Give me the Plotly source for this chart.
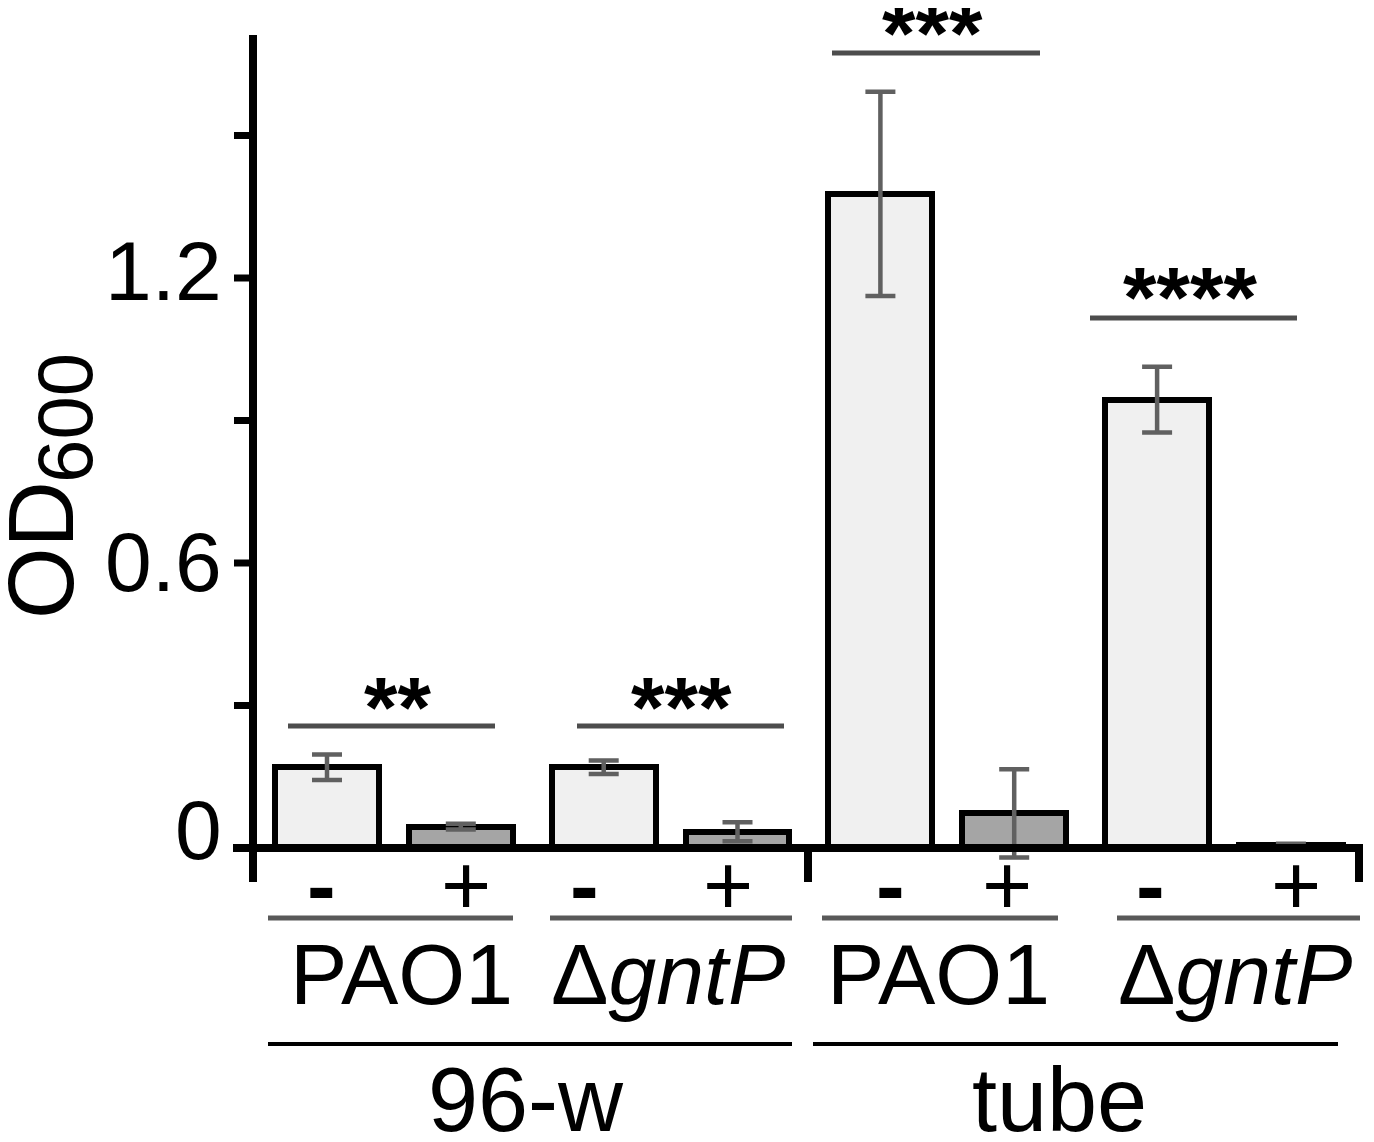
import plotly.graph_objects as go

# ---------------- data ----------------
conditions = ["96-w", "tube"]
strains = ["PAO1", "Δ<i>gntP</i>"]
treatments = ["-", "+"]
od_mean = [0.170, 0.045, 0.170, 0.034, 1.377, 0.073, 0.944, 0.006]
od_err = [0.027, 0.006, 0.014, 0.020, 0.215, 0.093, 0.069, 0.003]
sig_labels = ["**", "***", "***", "****"]
ytick_text = ["0", "0.6", "1.2"]
ytick_vals = [0.0, 0.6, 1.2]
yminor_vals = [0.3, 0.6, 0.9, 1.2, 1.5]

# ---------------- layout parameters ----------------
OFF = 8                               # page body margin
W, H = 1374 - 2 * OFF, 1142 - 2 * OFF
FONT = "Liberation Sans, Arial, sans-serif"
X0_PX, UNIT_PX = 327.0, 133.8        # screen pixel of first bar, pixels per x unit
Y0_PX, YUNIT_PX = 848.0, 475.0       # screen pixel of y=0, pixels per OD unit
PAIR_STEP = 2.068
BAR_W = 0.777
fills = {"-": "#f0f0f0", "+": "#a5a5a5"}
treat_fmt = {"-": "<b>-</b>", "+": "+"}

xrange_ = [(OFF - X0_PX) / UNIT_PX, (OFF + W - X0_PX) / UNIT_PX]
yrange_ = [(Y0_PX - (OFF + H)) / YUNIT_PX, (Y0_PX - OFF) / YUNIT_PX]


def px(xp):
    return (xp - OFF) / W


def py(yp):
    return 1 - (yp - OFF) / H


# bar positions and colours
xpos, colors = [], []
for ci, cond in enumerate(conditions):
    for si, st in enumerate(strains):
        pair = ci * 2 + si
        for ti, tr in enumerate(treatments):
            xpos.append(pair * PAIR_STEP + ti)
            colors.append(fills[tr])

fig = go.Figure()
fig.add_trace(go.Bar(
    x=xpos, y=od_mean, width=BAR_W,
    marker=dict(color=colors, line=dict(color="black", width=6)),
    error_y=dict(type="data", array=od_err, visible=True,
                 color="#606060", thickness=4.5, width=15),
    showlegend=False, hoverinfo="skip",
))

shapes = []
annotations = []

# axes
shapes.append(dict(type="line", xref="paper", yref="paper",
                   x0=px(253), x1=px(253), y0=py(35), y1=py(882),
                   line=dict(color="black", width=8)))
shapes.append(dict(type="line", xref="paper", yref="y",
                   x0=px(233), x1=px(1363), y0=0, y1=0,
                   line=dict(color="black", width=8)))
for xp_ in (808, 1359):
    shapes.append(dict(type="line", xref="paper", yref="paper",
                       x0=px(xp_), x1=px(xp_), y0=py(846), y1=py(882),
                       line=dict(color="black", width=8)))
for v in yminor_vals:
    shapes.append(dict(type="line", xref="paper", yref="y",
                       x0=px(234), x1=px(253), y0=v, y1=v,
                       line=dict(color="black", width=7)))

# y tick labels
ytick_shift = [18, 1, 7]
for v, t, s in zip(ytick_vals, ytick_text, ytick_shift):
    annotations.append(dict(xref="paper", yref="y", x=px(224), y=v, yshift=s,
                            text=t, showarrow=False, xanchor="right", yanchor="middle",
                            font=dict(family=FONT, size=84, color="black")))

# y title OD600
annotations.append(dict(xref="paper", yref="paper", x=px(41), y=py(550),
                        text="OD", textangle=-90, showarrow=False, height=76,
                        xanchor="center", yanchor="middle",
                        font=dict(family=FONT, size=92, color="black")))
annotations.append(dict(xref="paper", yref="paper", x=px(65), y=py(418),
                        text="600", textangle=-90, showarrow=False,
                        xanchor="center", yanchor="middle",
                        font=dict(family=FONT, size=78, color="black")))

# significance bars
sig_lines = [(288, 495, 726), (577, 784, 726), (832, 1040, 53), (1090, 1297, 318)]
sig_text_pos = [(398, 690), (681, 690), (932, 16), (1190, 280)]
for (a, b, yy), (tx, ty), lab in zip(sig_lines, sig_text_pos, sig_labels):
    shapes.append(dict(type="line", xref="paper", yref="paper",
                       x0=px(a), x1=px(b), y0=py(yy), y1=py(yy),
                       line=dict(color="#4d4d4d", width=5)))
    annotations.append(dict(xref="paper", yref="paper", x=px(tx), y=py(ty + 17),
                            text="<b>" + lab + "</b>", showarrow=False, height=66,
                            xanchor="center", yanchor="middle",
                            font=dict(family=FONT, size=86, color="black")))

# treatment labels
treat_px = [321, 466, 584, 728, 890, 1007, 1150, 1296]
for i, xp_ in enumerate(treat_px):
    tr = treatments[i % 2]
    annotations.append(dict(xref="paper", yref="paper", x=px(xp_), y=py(885),
                            text=treat_fmt[tr], showarrow=False,
                            xanchor="center", yanchor="middle",
                            font=dict(family=FONT, size=86, color="black")))

# strain labels and grey lines
grey_lines = [(268, 513), (550, 792), (822, 1058), (1117, 1360)]
strain_px = [401, 668, 938, 1235]
for i, ((a, b), sx) in enumerate(zip(grey_lines, strain_px)):
    shapes.append(dict(type="line", xref="paper", yref="paper",
                       x0=px(a), x1=px(b), y0=py(918), y1=py(918),
                       line=dict(color="#595959", width=5)))
    annotations.append(dict(xref="paper", yref="paper", x=px(sx), y=py(974),
                            text=strains[i % 2], showarrow=False,
                            xanchor="center", yanchor="middle",
                            font=dict(family=FONT, size=86, color="black")))

# condition labels and black lines
black_lines = [(268, 792), (813, 1338)]
cond_px = [526, 1059]
for (a, b), cx, cond in zip(black_lines, cond_px, conditions):
    shapes.append(dict(type="line", xref="paper", yref="paper",
                       x0=px(a), x1=px(b), y0=py(1044), y1=py(1044),
                       line=dict(color="black", width=4)))
    annotations.append(dict(xref="paper", yref="paper", x=px(cx), y=py(1100),
                            text=cond, showarrow=False, height=78,
                            xanchor="center", yanchor="middle",
                            font=dict(family=FONT, size=90, color="black")))

fig.update_layout(
    width=W, height=H,
    margin=dict(l=0, r=0, t=0, b=0),
    paper_bgcolor="white", plot_bgcolor="white",
    xaxis=dict(range=xrange_, visible=False, fixedrange=True),
    yaxis=dict(range=yrange_, visible=False, fixedrange=True),
    shapes=shapes, annotations=annotations,
    bargap=0,
)

fig.write_html("out.html")
